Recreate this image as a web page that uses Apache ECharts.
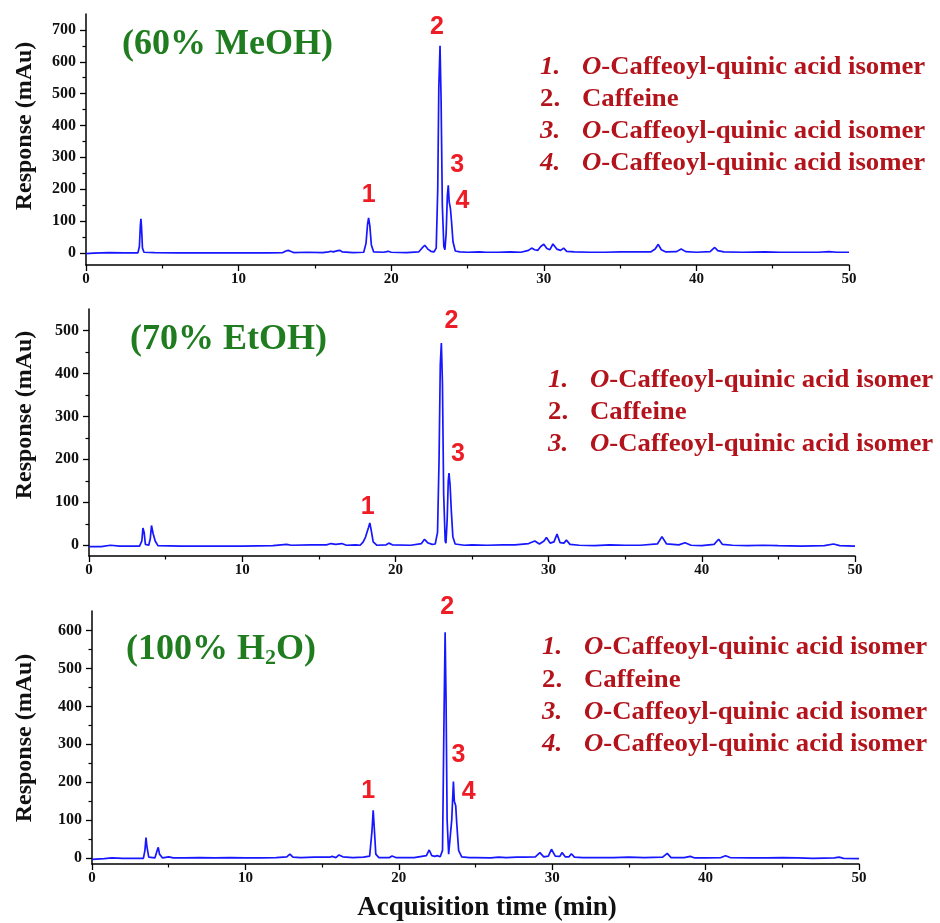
<!DOCTYPE html>
<html><head><meta charset="utf-8">
<script src="https://cdn.jsdelivr.net/npm/echarts@6/dist/echarts.min.js"></script>
<style>html,body{margin:0;padding:0;background:#fff}#c{width:940px;height:923px}</style>
</head><body><div id="c"></div>
<script>
// ---------------- DATA ----------------
const trace60 = [[0,-2],[0.5,-1],[1.5,1],[2.5,0],[3.4,0],[3.5,20],[3.56,85],[3.6,107],[3.64,80],[3.7,15],[3.8,2],[4.5,1],[6,0],[8,0],[10,0],[12,0],[12.9,1],[13.1,6],[13.25,8],[13.4,5],[13.6,1],[14.5,2],[15.5,1],[15.9,3],[16.05,5],[16.2,3],[16.5,7],[16.65,8],[16.8,3],[17.5,1],[18.2,2],[18.35,30],[18.45,90],[18.52,110],[18.6,85],[18.7,25],[18.85,3],[19.5,2],[19.8,5],[20.0,2],[21.0,1],[21.8,3],[22.0,14],[22.2,24],[22.4,12],[22.6,5],[22.8,3],[22.95,15],[23.05,200],[23.12,520],[23.2,650],[23.27,480],[23.35,150],[23.45,20],[23.52,10],[23.6,60],[23.68,180],[23.74,212],[23.8,160],[23.88,140],[23.95,100],[24.05,35],[24.2,6],[24.5,3],[25,2],[25.8,3],[26.2,2],[27,2],[27.8,3],[28.5,2],[29.0,8],[29.2,15],[29.4,10],[29.6,8],[29.8,20],[30.0,27],[30.2,14],[30.4,10],[30.6,28],[30.7,32],[30.85,12],[31.1,8],[31.3,15],[31.5,5],[32,3],[33,2],[34,2],[35,3],[36,3],[37.0,3],[37.3,12],[37.5,27],[37.7,10],[38.0,3],[38.7,4],[39.0,12],[39.3,4],[40.0,2],[40.9,4],[41.2,17],[41.4,7],[41.8,3],[43,2],[44.5,3],[45.5,2],[46.5,2],[48,2],[48.7,4],[49.2,2],[50,2]];
const trace70 = [[0,-3],[0.8,-3],[1.4,0],[2,-2],[3.3,-2],[3.45,10],[3.52,40],[3.55,44],[3.6,30],[3.68,2],[3.9,0],[4.0,15],[4.08,46],[4.12,48],[4.18,28],[4.25,30],[4.32,10],[4.5,-1],[6,-2],[8,-2],[10,-2],[12,-1],[12.9,2],[13.2,0],[14.5,1],[15.5,1],[15.8,4],[16.1,2],[16.5,4],[16.8,0],[17.4,1],[17.7,0],[17.9,8],[18.05,19],[18.15,22],[18.25,42],[18.33,52],[18.42,35],[18.55,8],[18.8,0],[19.4,1],[19.57,5],[19.8,1],[21,0],[21.7,4],[21.9,14],[22.1,6],[22.4,2],[22.6,3],[22.75,30],[22.85,200],[22.93,420],[23.0,471],[23.07,380],[23.15,120],[23.25,10],[23.3,5],[23.38,60],[23.45,150],[23.5,168],[23.57,140],[23.65,80],[23.75,20],[23.9,3],[24.5,0],[25,1],[26,0],[27,1],[27.8,1],[28.7,4],[29.1,10],[29.4,3],[29.7,10],[29.86,18],[30.1,5],[30.35,8],[30.55,26],[30.75,6],[31.0,5],[31.16,12],[31.4,2],[32,0],[33,-1],[34,1],[35,0],[36,0],[37.1,3],[37.4,20],[37.7,3],[38.5,1],[38.9,6],[39.3,0],[40,-1],[40.8,2],[41.1,14],[41.35,2],[42,0],[43,-1],[44,0],[45,-1],[46.5,-2],[48,-1],[48.6,3],[49.0,-1],[50,-2]];
const trace100 = [[0,-4],[0.8,-2],[1.3,0],[2,-1],[3.35,-1],[3.45,20],[3.52,54],[3.58,30],[3.7,2],[4.1,0],[4.25,20],[4.32,28],[4.4,10],[4.6,0],[5.0,3],[5.3,0],[6,0],[7,1],[8,0],[9,1],[10,0],[11,0],[12,1],[12.7,3],[12.9,10],[13.1,2],[13.6,1],[14.5,2],[15.5,2],[15.65,4],[15.9,1],[16.1,8],[16.2,11],[16.35,3],[17,1],[17.7,2],[18.1,5],[18.25,70],[18.33,126],[18.4,80],[18.5,10],[18.7,1],[19.4,1],[19.56,5],[19.8,1],[21,1],[21.8,6],[21.98,21],[22.15,6],[22.35,4],[22.5,6],[22.7,3],[22.85,20],[22.95,380],[23.02,596],[23.08,420],[23.15,100],[23.25,10],[23.35,8],[23.45,100],[23.56,202],[23.62,150],[23.71,138],[23.78,90],[23.9,20],[24.1,3],[24.6,1],[25,1],[26,0],[26.5,2],[27,1],[27.7,2],[28.2,2],[28.9,3],[29.2,14],[29.45,3],[29.75,5],[29.95,23],[30.2,5],[30.5,4],[30.64,14],[30.85,3],[31.1,3],[31.25,11],[31.45,2],[32,1],[33,1],[34,1],[35,2],[36,1],[37.2,2],[37.5,12],[37.75,1],[38.6,1],[39.0,4],[39.3,0],[40,0],[41.0,1],[41.3,6],[41.6,1],[43,0],[44,0],[45,1],[46,0],[47,-1],[48.4,0],[48.7,2],[49.0,-1],[50,-2]];

const peaks60 = [['1',18.52,110],['2',23.2,650],['3',23.74,212],['4',23.88,140]];
const peaks70 = [['1',18.33,52],['2',23.0,471],['3',23.5,168]];
const peaks100 = [['1',18.33,126],['2',23.02,596],['3',23.56,202],['4',23.71,138]];

const yTicks60 = [0,100,200,300,400,500,600,700];
const yMinor60 = [50,150,250,350,450,550,650];
const yTicks70 = [0,100,200,300,400,500];
const yMinor70 = [50,150,250,350,450];
const yTicks100 = [0,100,200,300,400,500,600];
const yMinor100 = [50,150,250,350,450,550];

const titles = ['(60% MeOH)', '(70% EtOH)', '(100% H2O)'];
const legend60 = [['1.','O','-Caffeoyl-quinic acid isomer'],['2.','','Caffeine'],['3.','O','-Caffeoyl-quinic acid isomer'],['4.','O','-Caffeoyl-quinic acid isomer']];
const legend70 = [['1.','O','-Caffeoyl-quinic acid isomer'],['2.','','Caffeine'],['3.','O','-Caffeoyl-quinic acid isomer']];
const legend100 = [['1.','O','-Caffeoyl-quinic acid isomer'],['2.','','Caffeine'],['3.','O','-Caffeoyl-quinic acid isomer'],['4.','O','-Caffeoyl-quinic acid isomer']];

const yName = 'Response (mAu)';
const xName = 'Acquisition time (min)';

// ---------------- LAYOUT / STYLE ----------------
const SERIF = 'Liberation Serif';
const panels = [
  {trace: trace60, peaks: peaks60, ticks: yTicks60, minor: yMinor60, min: -38, max: 750,
   grid: {left: 86, right: 91, top: 14, height: 251}, yNamePos: [25, 126],
   peakOff: [[0,-23],[-3,-19],[9,-20],[12,-7]],
   title: {x: 122, y: 45}, legend: {x: 540, y: 68, dy: 32}},
  {trace: trace70, peaks: peaks70, ticks: yTicks70, minor: yMinor70, min: -25, max: 550,
   grid: {left: 89, right: 85, top: 309, height: 247}, yNamePos: [25, 415],
   peakOff: [[-2,-16],[10,-22],[9,-19]],
   title: {x: 130, y: 340}, legend: {x: 548, y: 381, dy: 32}},
  {trace: trace100, peaks: peaks100, ticks: yTicks100, minor: yMinor100, min: -16, max: 652,
   grid: {left: 92, right: 81, top: 611, height: 253}, yNamePos: [25, 738],
   peakOff: [[-5,-19],[2,-25],[5,-26],[13,-14]],
   title: {x: 126, y: 650}, legend: {x: 542, y: 648, dy: 32.3}}
];
const legendsArr = [legend60, legend70, legend100];
const LEG_COLOR = '#b3141c', TITLE_COLOR = '#1f7d1f';

const grids = [], xAxes = [], yAxes = [], series = [], graphics = [];
panels.forEach((p, i) => {
  grids.push(p.grid);
  xAxes.push({
    gridIndex: i, type: 'value', min: 0, max: 50, interval: 10,
    axisLine: {onZero: false, lineStyle: {color: '#000', width: 1.5}},
    axisTick: {length: 6, lineStyle: {color: '#000', width: 1.3}},
    minorTick: {show: true, splitNumber: 2, length: 3.5, lineStyle: {color: '#000', width: 1.2}},
    axisLabel: {fontFamily: SERIF, fontWeight: 'bold', fontSize: 15, color: '#111', margin: 7},
    splitLine: {show: false}, minorSplitLine: {show: false}
  });
  yAxes.push({
    gridIndex: i, type: 'value', position: 'left', min: p.min, max: p.max,
    axisLine: {show: true, lineStyle: {color: '#000', width: 1.5}},
    axisTick: {show: true, length: 6, customValues: p.ticks, lineStyle: {color: '#000', width: 1.3}},
    axisLabel: {customValues: p.ticks, fontFamily: SERIF, fontWeight: 'bold', fontSize: 16, color: '#111', margin: 10},
    splitLine: {show: false}
  });
  yAxes.push({
    gridIndex: i, type: 'value', position: 'left', min: p.min, max: p.max,
    axisLine: {show: false},
    axisTick: {show: true, length: 3.5, customValues: p.minor, lineStyle: {color: '#000', width: 1.2}},
    axisLabel: {show: false}, splitLine: {show: false}
  });
  series.push({
    type: 'line', xAxisIndex: i, yAxisIndex: i * 2, data: p.trace,
    showSymbol: false, symbol: 'none', smooth: false,
    lineStyle: {color: '#1616ff', width: 1.7}, z: 3,
    markPoint: {
      symbol: 'circle', symbolSize: 0, silent: true,
      label: {show: true, color: '#ee1c24', fontFamily: 'Liberation Sans', fontWeight: 'bold', fontSize: 25},
      data: p.peaks.map((pk, k) => ({coord: [pk[1], pk[2]], value: pk[0],
        label: {formatter: pk[0], offset: p.peakOff[k]}}))
    }
  });
  // y-axis name
  graphics.push({type: 'text', x: p.yNamePos[0], y: p.yNamePos[1], rotation: Math.PI / 2,
    style: {text: yName, font: 'bold 24px ' + SERIF, fill: '#111', textAlign: 'center', textVerticalAlign: 'middle'}});
  // title
  const t = titles[i];
  const m = t.match(/^(.*H)2(O\))$/);
  graphics.push({
    type: 'text', x: p.title.x, y: p.title.y,
    style: m ? {
      text: '{a|' + m[1] + '}{s|2}{a|' + m[2] + '}',
      rich: {a: {font: 'bold 36px ' + SERIF, fill: TITLE_COLOR}, s: {font: 'bold 22px ' + SERIF, fill: TITLE_COLOR, padding: [16, 0, 0, 0]}},
      textVerticalAlign: 'middle'
    } : {text: t, font: 'bold 36px ' + SERIF, fill: TITLE_COLOR, textVerticalAlign: 'middle'}
  });
  // legend lines
  legendsArr[i].forEach((row, r) => {
    const yy = p.legend.y + r * p.legend.dy;
    const ital = row[1] !== '';
    graphics.push({type: 'text', x: p.legend.x, y: yy, scaleX: 1.07,
      style: {text: row[0], font: (ital ? 'italic ' : '') + 'bold 25px ' + SERIF, fill: LEG_COLOR, textVerticalAlign: 'middle'}});
    graphics.push({type: 'text', x: p.legend.x + 42, y: yy, scaleX: 1.07,
      style: {text: (ital ? '{i|' + row[1] + '}' : '') + '{b|' + row[2] + '}',
        rich: {i: {font: 'italic bold 25px ' + SERIF, fill: LEG_COLOR}, b: {font: 'bold 25px ' + SERIF, fill: LEG_COLOR}},
        textVerticalAlign: 'middle'}});
  });
});
// x-axis name
graphics.push({type: 'text', x: 487, y: 908,
  style: {text: xName, font: 'bold 27px ' + SERIF, fill: '#111', textAlign: 'center', textVerticalAlign: 'middle'}});

const chart = echarts.init(document.getElementById('c'), null, {renderer: 'canvas'});
chart.setOption({
  backgroundColor: '#fff', animation: false,
  grid: grids, xAxis: xAxes, yAxis: yAxes, series: series, graphic: graphics
});
</script>
</body></html>
